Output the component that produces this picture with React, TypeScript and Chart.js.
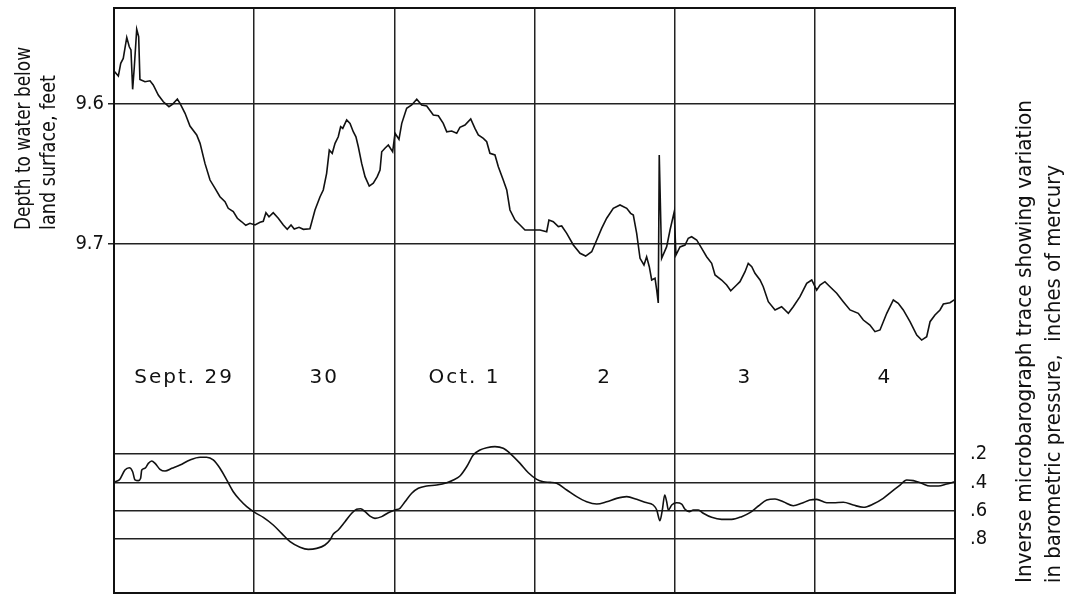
import React, { useEffect, useRef } from "react";
import { Chart, registerables } from "chart.js";

Chart.register(...registerables);

// Day columns (Sept. 29 .. Oct. 4)
const dayLabels = ["Sept. 29", "30", "Oct. 1", "2", "3", "4"];

// Water-level trace: time in days from start of Sept. 29, depth to water (ft)
const waterDays = [
  0, 0.031, 0.048, 0.066, 0.091, 0.109, 0.121, 0.133, 0.145, 0.162,
  0.176, 0.185, 0.221, 0.257, 0.28, 0.316, 0.352, 0.392, 0.419, 0.452,
  0.471, 0.507, 0.542, 0.59, 0.614, 0.649, 0.685, 0.721, 0.756, 0.792,
  0.815, 0.851, 0.88, 0.911, 0.94, 0.97, 1.006, 1.042, 1.065, 1.084,
  1.106, 1.136, 1.172, 1.208, 1.236, 1.263, 1.286, 1.32, 1.351, 1.398,
  1.434, 1.47, 1.493, 1.517, 1.536, 1.557, 1.577, 1.6, 1.617, 1.632,
  1.66, 1.684, 1.707, 1.726, 1.743, 1.767, 1.791, 1.821, 1.85, 1.878,
  1.898, 1.91, 1.933, 1.957, 1.988, 2.005, 2.033, 2.053, 2.088, 2.124,
  2.16, 2.195, 2.231, 2.278, 2.314, 2.349, 2.374, 2.409, 2.445, 2.468,
  2.504, 2.545, 2.575, 2.599, 2.635, 2.659, 2.682, 2.718, 2.742, 2.777,
  2.802, 2.825, 2.861, 2.897, 2.932, 2.991, 3.039, 3.087, 3.103, 3.134,
  3.17, 3.194, 3.23, 3.277, 3.325, 3.365, 3.408, 3.444, 3.479, 3.515,
  3.562, 3.61, 3.658, 3.686, 3.705, 3.729, 3.753, 3.781, 3.8, 3.819,
  3.836, 3.86, 3.872, 3.883, 3.89, 3.907, 3.943, 3.967, 3.997, 4.009,
  4.038, 4.074, 4.097, 4.121, 4.157, 4.193, 4.228, 4.264, 4.288, 4.335,
  4.371, 4.4, 4.442, 4.466, 4.502, 4.525, 4.55, 4.573, 4.609, 4.632,
  4.668, 4.716, 4.763, 4.811, 4.846, 4.894, 4.942, 4.978, 5.013, 5.037,
  5.072, 5.108, 5.156, 5.203, 5.251, 5.31, 5.346, 5.393, 5.429, 5.465,
  5.513, 5.56, 5.595, 5.631, 5.679, 5.727, 5.762, 5.798, 5.822, 5.857,
  5.893, 5.917, 5.964, 6.0,
];
const waterDepth = [
  9.5764, 9.58, 9.5709, 9.5674, 9.5524, 9.5591, 9.5614, 9.5895, 9.5734, 9.5466,
  9.5519, 9.5824, 9.5841, 9.5834, 9.5864, 9.5936, 9.5984, 9.6019, 9.6, 9.5964,
  9.5995, 9.6066, 9.6157, 9.6221, 9.6281, 9.6424, 9.6543, 9.6602, 9.6662, 9.6698,
  9.6745, 9.6769, 9.6816, 9.6841, 9.6866, 9.6852, 9.6864, 9.6845, 9.6838, 9.6776,
  9.6805, 9.6776, 9.6816, 9.6864, 9.6895, 9.6864, 9.6893, 9.6881, 9.6895, 9.6891,
  9.6757, 9.6662, 9.6614, 9.6495, 9.6329, 9.6352, 9.6281, 9.6234, 9.6162, 9.6174,
  9.6114, 9.6138, 9.6198, 9.6234, 9.6305, 9.6424, 9.6519, 9.6586, 9.6566, 9.6519,
  9.6471, 9.6341, 9.6316, 9.6293, 9.6341, 9.6209, 9.6252, 9.6138, 9.6031, 9.6007,
  9.5966, 9.6007, 9.6014, 9.6079, 9.6084, 9.6138, 9.6198, 9.6193, 9.6209, 9.6166,
  9.615, 9.6107, 9.6174, 9.6221, 9.6245, 9.6269, 9.6352, 9.6364, 9.6448, 9.6543,
  9.6614, 9.6757, 9.6829, 9.6864, 9.69, 9.69, 9.69, 9.6912, 9.6829, 9.6841,
  9.6876, 9.6871, 9.6924, 9.7007, 9.7066, 9.7086, 9.7055, 9.6971, 9.6888, 9.6816,
  9.6745, 9.6721, 9.6745, 9.6781, 9.6793, 9.6924, 9.7102, 9.715, 9.7091, 9.7162,
  9.7257, 9.7245, 9.7329, 9.7421, 9.6364, 9.7102, 9.7019, 9.69, 9.6769, 9.7079,
  9.7021, 9.7007, 9.6959, 9.6948, 9.6971, 9.7031, 9.7091, 9.7138, 9.7221, 9.7257,
  9.7293, 9.7334, 9.7293, 9.7269, 9.7198, 9.7138, 9.7162, 9.7209, 9.7257, 9.7305,
  9.7412, 9.7471, 9.7448, 9.7495, 9.7448, 9.7376, 9.7281, 9.7257, 9.7329, 9.7293,
  9.7269, 9.7305, 9.7352, 9.7412, 9.7471, 9.7495, 9.7543, 9.7579, 9.7626, 9.7614,
  9.7495, 9.74, 9.7424, 9.7471, 9.7555, 9.765, 9.7686, 9.7662, 9.7555, 9.7507,
  9.7471, 9.7429, 9.7419, 9.7395,
];

// Inverse microbarograph trace: time in days, inches of mercury
const baroDays = [
  0, 0.038, 0.078, 0.109, 0.133, 0.15, 0.173, 0.19, 0.198, 0.221,
  0.245, 0.269, 0.293, 0.328, 0.364, 0.412, 0.471, 0.542, 0.614, 0.661,
  0.708, 0.756, 0.804, 0.851, 0.899, 0.947, 1.006, 1.065, 1.136, 1.196,
  1.256, 1.327, 1.386, 1.446, 1.505, 1.541, 1.565, 1.6, 1.648, 1.696,
  1.731, 1.76, 1.791, 1.826, 1.862, 1.91, 1.957, 2.005, 2.04, 2.076,
  2.124, 2.171, 2.231, 2.302, 2.374, 2.421, 2.468, 2.516, 2.563, 2.611,
  2.659, 2.718, 2.777, 2.825, 2.897, 2.956, 3.016, 3.063, 3.111, 3.158,
  3.23, 3.301, 3.372, 3.444, 3.515, 3.586, 3.658, 3.729, 3.788, 3.847,
  3.872, 3.895, 3.912, 3.929, 3.943, 3.955, 3.979, 4.014, 4.05, 4.074,
  4.104, 4.133, 4.169, 4.204, 4.264, 4.335, 4.407, 4.478, 4.537, 4.597,
  4.657, 4.716, 4.775, 4.846, 4.906, 4.964, 5.013, 5.085, 5.132, 5.203,
  5.274, 5.346, 5.417, 5.488, 5.548, 5.608, 5.655, 5.703, 5.762, 5.822,
  5.881, 5.941, 6.0,
];
const baroValues = [
  0.396, 0.383, 0.313, 0.297, 0.325, 0.383, 0.388, 0.371, 0.313, 0.301,
  0.266, 0.249, 0.266, 0.308, 0.32, 0.301, 0.278, 0.242, 0.223, 0.223,
  0.242, 0.301, 0.383, 0.466, 0.525, 0.572, 0.614, 0.647, 0.701, 0.76,
  0.819, 0.858, 0.873, 0.866, 0.842, 0.807, 0.765, 0.736, 0.678, 0.618,
  0.59, 0.586, 0.607, 0.638, 0.654, 0.642, 0.614, 0.595, 0.583, 0.537,
  0.477, 0.442, 0.426, 0.419, 0.403, 0.383, 0.355, 0.29, 0.207, 0.172,
  0.156, 0.148, 0.16, 0.195, 0.266, 0.332, 0.379, 0.396, 0.4, 0.407,
  0.454, 0.501, 0.537, 0.553, 0.537, 0.513, 0.501, 0.52, 0.541, 0.56,
  0.595, 0.671, 0.595, 0.489, 0.537, 0.595, 0.56, 0.544, 0.553, 0.59,
  0.607, 0.595, 0.595, 0.618, 0.647, 0.661, 0.661, 0.642, 0.614, 0.567,
  0.525, 0.518, 0.537, 0.565, 0.548, 0.525, 0.52, 0.544, 0.544, 0.541,
  0.56, 0.576, 0.553, 0.513, 0.466, 0.419, 0.383, 0.388, 0.407, 0.426,
  0.426, 0.412, 0.396,
];

const depthTicks = [9.6, 9.7];
const baroTicks = [0.2, 0.4, 0.6, 0.8];

const leftTitle = ["Depth to water below", "land surface, feet"];
const rightTitle = [
  "Inverse microbarograph trace showing variation",
  "in barometric pressure,  inches of mercury",
];

const INK = "#111";
const NARROW = "'DejaVu Sans Condensed', 'Liberation Sans Narrow', 'DejaVu Sans', sans-serif";

function drawRotated(ctx: CanvasRenderingContext2D, text: string, x: number, y: number, len: number, size: number) {
  ctx.save();
  ctx.translate(x, y);
  ctx.rotate(-Math.PI / 2);
  ctx.font = `${size}px ${NARROW}`;
  ctx.textAlign = "left";
  ctx.textBaseline = "alphabetic";
  const w = ctx.measureText(text).width;
  ctx.scale(len / w, 1);
  ctx.fillStyle = INK;
  ctx.fillText(text, 0, 0);
  ctx.restore();
}

const decorPlugin = {
  id: "decor",
  afterDraw(chart: any) {
    const ctx: CanvasRenderingContext2D = chart.ctx;
    const { left, top, right, bottom } = chart.chartArea;
    ctx.save();
    ctx.strokeStyle = INK;
    ctx.lineWidth = 2;
    ctx.strokeRect(left, top, right - left, bottom - top);

    const xs = chart.scales.x;
    ctx.fillStyle = INK;
    ctx.font = "20px 'DejaVu Sans', sans-serif";
    ctx.textAlign = "center";
    ctx.textBaseline = "middle";
    (ctx as any).letterSpacing = "2px";
    dayLabels.forEach((t, i) => {
      ctx.fillText(t, xs.getPixelForValue(i + 0.5), 378);
    });
    (ctx as any).letterSpacing = "0px";

    drawRotated(ctx, leftTitle[0], 30, 230, 183, 21);
    drawRotated(ctx, leftTitle[1], 55, 230, 155, 21);
    drawRotated(ctx, rightTitle[0], 1031, 583, 483, 21);
    drawRotated(ctx, rightTitle[1], 1060, 583, 418, 21);
    ctx.restore();
  },
};

export default function App() {
  const ref = useRef<HTMLCanvasElement | null>(null);

  useEffect(() => {
    if (!ref.current) return;
    const water = waterDays.map((d, i) => ({ x: d, y: waterDepth[i] }));
    const baro = baroDays.map((d, i) => ({ x: d, y: baroValues[i] }));
    const gridStyle = { color: "#222", lineWidth: 1.5 };
    const chart = new Chart(ref.current, {
      type: "line",
      data: {
        datasets: [
          {
            data: water,
            yAxisID: "y",
            borderColor: INK,
            borderWidth: 1.6,
            pointRadius: 0,
            tension: 0,
          },
          {
            data: baro,
            yAxisID: "y2",
            borderColor: INK,
            borderWidth: 1.6,
            pointRadius: 0,
            cubicInterpolationMode: "monotone",
          },
        ],
      },
      options: {
        responsive: false,
        animation: false,
        events: [],
        layout: { padding: { top: 8, bottom: 2, left: 0, right: 0 } },
        plugins: { legend: { display: false }, tooltip: { enabled: false }, title: { display: false } },
        scales: {
          x: {
            type: "linear",
            min: 0,
            max: 6,
            ticks: { display: false, stepSize: 1 },
            grid: { ...gridStyle, drawTicks: false },
            border: { display: false },
            afterFit: (s: any) => {
              s.height = 0;
              s.paddingLeft = 0;
              s.paddingRight = 0;
            },
          },
          y: {
            type: "linear",
            position: "left",
            reverse: true,
            min: 9.5314,
            max: 9.9493,
            afterBuildTicks: (s: any) => {
              s.ticks = depthTicks.map((v) => ({ value: v }));
            },
            ticks: {
              callback: (v: any) => Number(v).toFixed(1),
              color: INK,
              padding: 4,
              font: { family: NARROW, size: 20 },
            },
            grid: { ...gridStyle, drawTicks: true, tickLength: 6 },
            border: { display: false },
            afterFit: (s: any) => {
              s.width = 114;
              s.paddingTop = 0;
              s.paddingBottom = 0;
            },
          },
          y2: {
            type: "linear",
            position: "right",
            reverse: true,
            min: -2.948,
            max: 1.181,
            afterBuildTicks: (s: any) => {
              s.ticks = baroTicks.map((v) => ({ value: v }));
            },
            ticks: {
              callback: (v: any) => "." + Math.round(Number(v) * 10),
              color: INK,
              padding: 15,
              font: { family: NARROW, size: 20 },
            },
            grid: { ...gridStyle, drawTicks: false },
            border: { display: false },
            afterFit: (s: any) => {
              s.width = 115;
              s.paddingTop = 0;
              s.paddingBottom = 0;
            },
          },
        },
      } as any,
      plugins: [decorPlugin],
    });
    return () => chart.destroy();
  }, []);

  return (
    <div style={{ position: "fixed", left: 0, top: 0, width: 1070, height: 595, background: "#fff" }}>
      <canvas ref={ref} width={1070} height={595} style={{ display: "block" }} />
    </div>
  );
}
